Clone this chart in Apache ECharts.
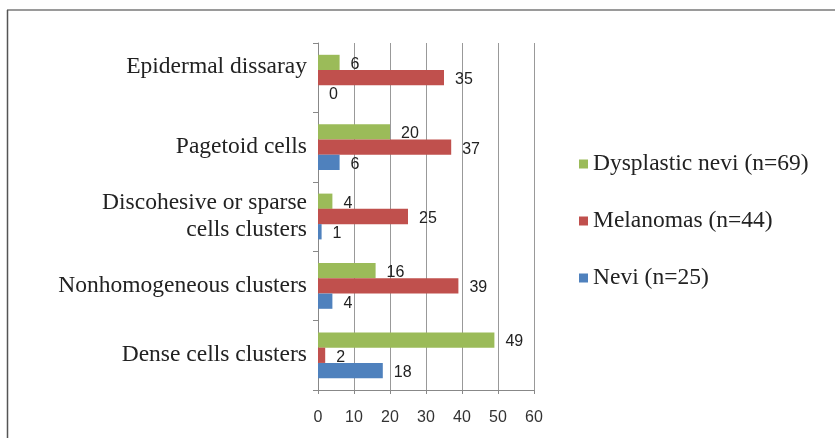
<!DOCTYPE html>
<html>
<head>
<meta charset="utf-8">
<script src="https://cdn.jsdelivr.net/npm/echarts@6/dist/echarts.min.js"></script>
<style>
  html, body { margin: 0; padding: 0; background: #fff; }
  #chart { width: 835px; height: 438px; }
</style>
</head>
<body>
<div id="chart"></div>
<script>
// Features, listed top to bottom
const categories = [
  'Epidermal dissaray',
  'Pagetoid cells',
  'Discohesive or sparse\ncells clusters',
  'Nonhomogeneous clusters',
  'Dense cells clusters'
];
const seriesNames = ['Dysplastic nevi (n=69)', 'Melanomas (n=44)', 'Nevi (n=25)'];
const dysplasticNevi = [6, 20, 4, 16, 49];
const melanomas = [35, 37, 25, 39, 2];
const nevi = [0, 6, 1, 4, 18];
const xTicks = [0, 10, 20, 30, 40, 50, 60];

const colors = ['#9BBB59', '#C0504D', '#4F81BD'];
const valueSets = [dysplasticNevi, melanomas, nevi];

const serif = '"Liberation Serif", "Times New Roman", serif';
const sans = '"Liberation Sans", Arial, sans-serif';

const chart = echarts.init(document.getElementById('chart'));

const series = seriesNames.map((name, i) => ({
  name: name,
  type: 'bar',
  data: valueSets[i],
  barGap: '0%',
  barCategoryGap: '34%',
  itemStyle: { color: colors[i] },
  label: {
    show: true,
    position: 'right',
    distance: 11,
    offset: [0, 2],
    color: '#222',
    fontFamily: sans,
    fontSize: 16
  }
}));

chart.setOption({
  animation: false,
  backgroundColor: '#fff',
  grid: { left: 318, right: 301, top: 43, bottom: 48, containLabel: false },
  legend: {
    data: seriesNames,
    orient: 'vertical',
    left: 574,
    top: 147,
    itemWidth: 9,
    itemHeight: 9,
    itemGap: 33,
    icon: 'rect',
    textStyle: { fontFamily: serif, fontSize: 23.5, color: '#222' }
  },
  xAxis: {
    type: 'value',
    min: xTicks[0],
    max: xTicks[xTicks.length - 1],
    interval: 10,
    axisLine: { show: true, lineStyle: { color: '#888', width: 1 } },
    axisTick: { show: true, length: 4, lineStyle: { color: '#888' } },
    axisLabel: { color: '#333', fontFamily: sans, fontSize: 16, margin: 20 },
    splitLine: { show: true, lineStyle: { color: '#999', width: 1 } }
  },
  yAxis: {
    type: 'category',
    inverse: true,
    data: categories,
    axisLine: { show: true, lineStyle: { color: '#888', width: 1 } },
    axisTick: { show: true, length: 5, lineStyle: { color: '#888' } },
    axisLabel: {
      color: '#222',
      fontFamily: serif,
      fontSize: 23.5,
      lineHeight: 27,
      margin: 11,
      align: 'right',
      // the top feature's label sits a little higher than its band centre
      formatter: (value, index) => index === 0 ? '{raised|' + value + '}' : value,
      rich: {
        raised: {
          fontFamily: serif,
          fontSize: 23.5,
          color: '#222',
          padding: [0, 0, 22, 0]
        }
      }
    },
    splitLine: { show: false }
  },
  series: series,
  graphic: [
    {
      type: 'line',
      shape: { x1: 7, y1: 10, x2: 835, y2: 10 },
      style: { stroke: '#9a9a9a', lineWidth: 2 },
      silent: true
    },
    {
      type: 'line',
      shape: { x1: 7.5, y1: 10, x2: 7.5, y2: 438 },
      style: { stroke: '#555', lineWidth: 1.5 },
      silent: true
    }
  ]
});
</script>
</body>
</html>
